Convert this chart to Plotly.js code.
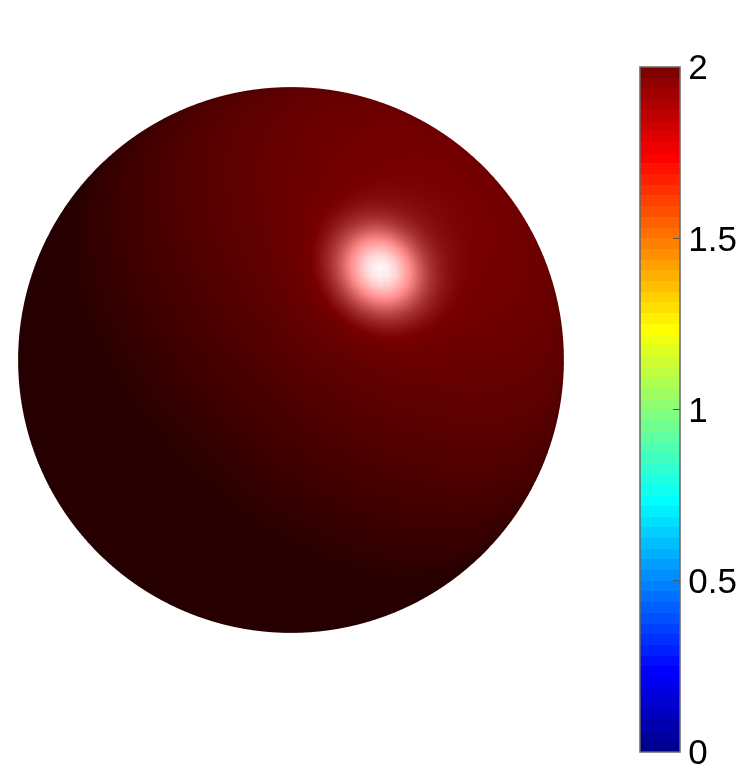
<!DOCTYPE html>
<html>
<head>
<meta charset="utf-8">
<script src="https://cdn.plot.ly/plotly-3.0.1.min.js"></script>
<style>html,body{margin:0;padding:0;background:#fff;overflow:hidden}</style>
</head>
<body>
<div id="myPlot" style="width:747px;height:771px"></div>
<script>
// matlab jet(64), drawn as 64 flat bands in the colorbar
var jetColors = [
	'#00008f','#00009f','#0000af','#0000bf','#0000cf','#0000df','#0000ef','#0000ff',
	'#0010ff','#0020ff','#0030ff','#0040ff','#0050ff','#0060ff','#0070ff','#0080ff',
	'#008fff','#009fff','#00afff','#00bfff','#00cfff','#00dfff','#00efff','#00ffff',
	'#10ffef','#20ffdf','#30ffcf','#40ffbf','#50ffaf','#60ff9f','#70ff8f','#80ff80',
	'#8fff70','#9fff60','#afff50','#bfff40','#cfff30','#dfff20','#efff10','#ffff00',
	'#ffef00','#ffdf00','#ffcf00','#ffbf00','#ffaf00','#ff9f00','#ff8f00','#ff8000',
	'#ff7000','#ff6000','#ff5000','#ff4000','#ff3000','#ff2000','#ff1000','#ff0000',
	'#ef0000','#df0000','#cf0000','#bf0000','#af0000','#9f0000','#8f0000','#800000'
];
var tickValues = [0, 0.5, 1, 1.5, 2];
var tickLabels = ['0', '0.5', '1', '1.5', '2'];
var sphereValue = 2;
var colorMin = 0;
var colorMax = 2;

// light: highlight normal and light direction, view space
var halfDir = [0.327, 0.33, 0.886];
var lightDir = [0.579, 0.585, 0.57];
var ambient = 0.28, diffuse = 0.59, specular = 1;

var colorscale = [];
jetColors.forEach((c, i)=>{
	colorscale.push([i/64, c]);
	colorscale.push([(i+1)/64, c]);
});

// plotly's own light would not land where matlab's did, so the shade is baked in
var shadeScale = [
	[0, '#000000'],
	[0.435, '#780000'],
	[0.71, '#ff8c8c'],
	[0.935, '#ffffff'],
	[1, '#ffffff']
];

function dot(a, b){
	return a[0]*b[0] + a[1]*b[1] + a[2]*b[2];
}

// unit sphere grid, 2 degree steps
var x = [], y = [], z = [], xi = [], yi = [], zi = [], c = [], shade = [];
for (var lat = -90; lat <= 90; lat += 2) {
	var rx = [], ry = [], rz = [], ix = [], iy = [], iz = [], rc = [], rs = [];
	for (var lon = -180; lon <= 180; lon += 2) {
		var a = lat*Math.PI/180, b = lon*Math.PI/180;
		var n = [Math.cos(a)*Math.sin(b), Math.sin(a), Math.cos(a)*Math.cos(b)];
		rx.push(n[0]); ry.push(n[1]); rz.push(n[2]);
		ix.push(n[0]*0.98); iy.push(n[1]*0.98); iz.push(n[2]*0.98);
		rc.push(sphereValue);
		var d = ambient + diffuse*Math.max(dot(n, lightDir), 0);
		var h = Math.max(dot(n, halfDir), 0);
		var s = specular*(0.8*Math.pow(h, 90) + 0.2*Math.pow(h, 25));
		rs.push(d + s);
	}
	x.push(rx); y.push(ry); z.push(rz);
	xi.push(ix); yi.push(iy); zi.push(iz);
	c.push(rc); shade.push(rs);
}

// inner sphere holds the real value and the colorbar
var trace1 = {
	type: 'surface',
	x: xi, y: yi, z: zi,
	surfacecolor: c,
	cmin: colorMin, cmax: colorMax,
	colorscale: colorscale,
	hoverinfo: 'skip',
	colorbar: {
		x: 640/747, xanchor: 'left', xpad: 0,
		y: 1-67/771, yanchor: 'top', ypad: 0,
		thickness: 40, thicknessmode: 'pixels',
		len: 685, lenmode: 'pixels',
		outlinecolor: '#666666', outlinewidth: 1.5,
		ticks: 'inside', ticklen: 7, tickwidth: 1, tickcolor: '#555555',
		ticklabeloverflow: 'allow',
		tickmode: 'array', tickvals: tickValues, ticktext: tickLabels,
		tickfont: {family: 'Liberation Sans, Arial, sans-serif', size: 35, color: '#000000'}
	}
};

var trace2 = {
	type: 'surface',
	x: x, y: y, z: z,
	surfacecolor: shade,
	cmin: 0, cmax: 2,
	colorscale: shadeScale,
	showscale: false,
	hoverinfo: 'skip',
	lighting: {ambient: 1, diffuse: 0, specular: 0, roughness: 1, fresnel: 0}
};

var hidden = {visible: false};
var layout = {
	width: 747, height: 771,
	margin: {l: 0, r: 0, t: 0, b: 0},
	paper_bgcolor: '#ffffff',
	showlegend: false,
	scene: {
		domain: {x: [0, 582/747], y: [1-720/771, 1]},
		xaxis: hidden, yaxis: hidden, zaxis: hidden,
		aspectmode: 'manual',
		aspectratio: {x: 1.611, y: 1.611, z: 1.611},
		bgcolor: '#ffffff',
		camera: {
			eye: {x: 0, y: 0, z: 2},
			up: {x: 0, y: 1, z: 0},
			center: {x: 0, y: 0, z: 0},
			projection: {type: 'orthographic'}
		}
	}
};
Plotly.newPlot('myPlot', [trace1, trace2], layout, {displayModeBar: false});
</script>
</body>
</html>
